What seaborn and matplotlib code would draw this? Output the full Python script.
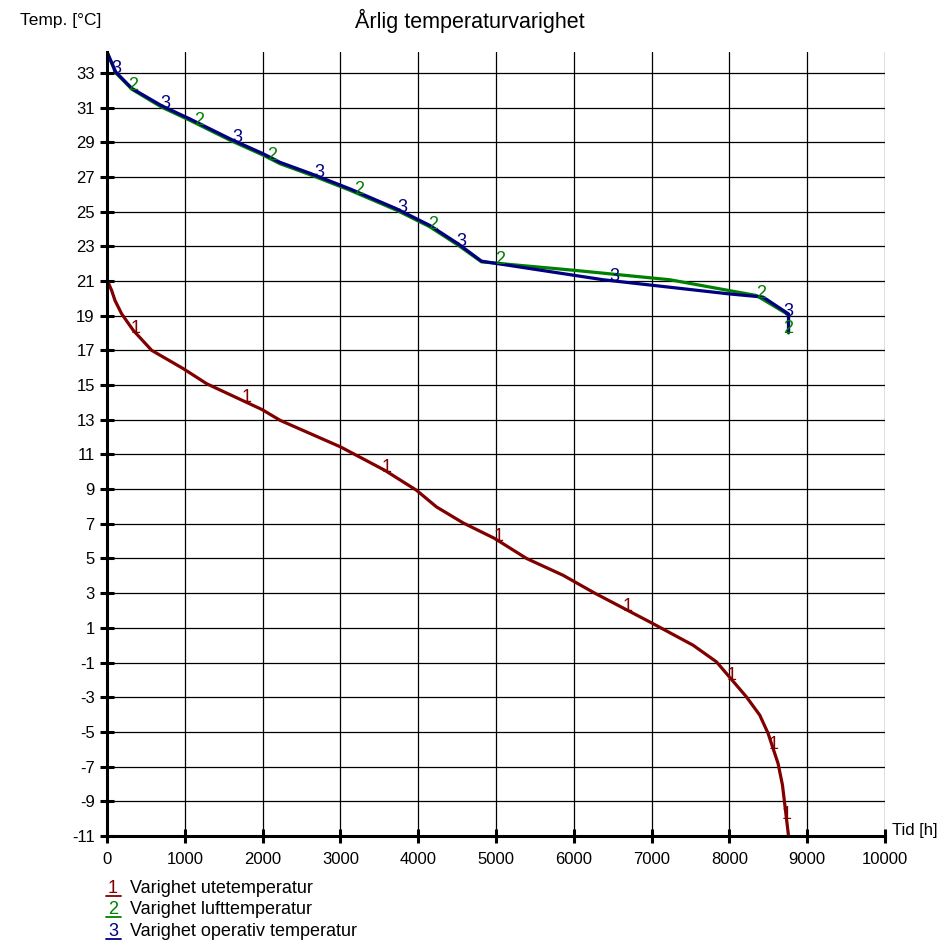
import numpy as np
import pandas as pd
import matplotlib
matplotlib.use("Agg")
import matplotlib.pyplot as plt
import seaborn as sns
from matplotlib.lines import Line2D

# ---------------- data ----------------
ute_hours = [0, 60, 103, 189, 338, 574, 982, 1283, 1995, 2227, 3003, 3572, 3979,
             4236, 4578, 4985, 5393, 5863, 6270, 6977, 7533, 7834, 8219, 8390,
             8497, 8625, 8682, 8760]
ute_temp = [21.07, 20.45, 19.87, 19.1, 18.15, 17.0, 15.94, 15.07, 13.58, 12.96,
            11.43, 10.08, 8.93, 7.97, 7.05, 6.15, 5.0, 4.03, 3.0, 1.34, 0.0,
            -0.96, -2.98, -4.03, -5.08, -6.81, -8.06, -11.0]

luft_hours = [0, 112, 320, 703, 1066, 1602, 2009, 2223, 2608, 3122, 3722, 4150,
              4514, 4814, 5991, 7234, 8348, 8760, 8760]
luft_temp = [34.2, 33.0, 32.05, 31.02, 30.26, 29.07, 28.25, 27.76, 27.13, 26.23,
             25.08, 24.12, 23.06, 22.1, 21.62, 21.07, 20.16, 19.05, 18.0]

op_hours = [0, 112, 320, 703, 1066, 1602, 2009, 2223, 2608, 3122, 3722, 4150,
            4514, 4814, 6377, 7983, 8433, 8760, 8760]
op_temp = [34.2, 33.05, 32.1, 31.1, 30.34, 29.15, 28.33, 27.84, 27.21, 26.31,
           25.16, 24.2, 23.14, 22.14, 21.07, 20.26, 20.07, 19.1, 18.05]

series_ids = ["1", "2", "3"]
series_names = ["Varighet utetemperatur", "Varighet lufttemperatur",
                "Varighet operativ temperatur"]
series_colors = ["#800000", "#008000", "#000080"]

label_temps_ute = [18, 14, 10, 6, 2, -2, -6, -10]
label_temps_luft = [32, 30, 28, 26, 24, 22, 20, 18]
label_temps_op = [33, 31, 29, 27, 25, 23, 21, 19]

x_ticks = list(range(0, 10001, 1000))
y_ticks = list(range(-11, 34, 2))

title = "Årlig temperaturvarighet"
y_label = "Temp. [°C]"
x_label = "Tid [h]"

# ---------------- build long table ----------------
frames = []
for sid, h, t in zip(series_ids, [ute_hours, luft_hours, op_hours],
                     [ute_temp, luft_temp, op_temp]):
    frames.append(pd.DataFrame({"hours": h, "temp": t, "series": sid}))
df = pd.concat(frames, ignore_index=True)

sns.set_theme(style="white")
plt.rcParams["font.family"] = ["Liberation Sans", "DejaVu Sans"]

W, H = 939, 942
fig = plt.figure(figsize=(W / 100, H / 100), dpi=100)
ax = fig.add_axes([107 / W, 1 - 836 / H, (885 - 107) / W, (836 - 52) / H])

sns.lineplot(data=df, x="hours", y="temp", hue="series", hue_order=series_ids,
             palette=dict(zip(series_ids, series_colors)), sort=False,
             estimator=None, linewidth=2.3, legend=False, ax=ax, zorder=3)

ax.set_xlim(0, 10000)
ax.set_ylim(-11, 34.2)
ax.set_xticks(x_ticks)
ax.set_yticks(y_ticks)
ax.set_xticklabels([str(v) for v in x_ticks])
ax.set_yticklabels([str(v) for v in y_ticks])
ax.set_xlabel("")
ax.set_ylabel("")
ax.grid(True, color="black", linewidth=0.9)
ax.set_axisbelow(True)
for s in ["top", "right"]:
    ax.spines[s].set_visible(False)
for s in ["left", "bottom"]:
    ax.spines[s].set_color("black")
    ax.spines[s].set_linewidth(2.2)
    ax.spines[s].set_zorder(4)
ax.tick_params(axis="both", direction="inout", length=9.5, width=2.2,
               colors="black", labelsize=12, left=True, bottom=True)
ax.tick_params(axis="x", pad=7)
ax.tick_params(axis="y", pad=4)

# curve labels placed on the curves at given temperatures
for sid, h, t, temps, col in zip(series_ids, [ute_hours, luft_hours, op_hours],
                                 [ute_temp, luft_temp, op_temp],
                                 [label_temps_ute, label_temps_luft, label_temps_op],
                                 series_colors):
    hr = np.array(h)[::-1]
    tr = np.array(t)[::-1]
    for T in temps:
        xv = np.interp(T, tr, hr)
        ax.text(xv, T, sid, color=col, fontsize=13, ha="center", va="baseline",
                zorder=5, clip_on=False)

# titles / axis labels
fig.text(0.5, 1 - 28 / H, title, ha="center", va="baseline", fontsize=15.5,
         color="black")
fig.text(20 / W, 1 - 25 / H, y_label, ha="left", va="baseline", fontsize=12.5,
         color="black")
fig.text(892 / W, 1 - 835 / H, x_label, ha="left", va="baseline", fontsize=12,
         color="black")

# legend with underlined coloured numbers
for i, (sid, name, col) in enumerate(zip(series_ids, series_names, series_colors)):
    yb = 1 - (893 + 21.5 * i) / H
    fig.text(108 / W, yb, sid, color=col, fontsize=13, ha="left", va="baseline")
    fig.text(130 / W, yb, name, color="black", fontsize=13, ha="left",
             va="baseline")
    yl = 1 - (895.5 + 21.5 * i) / H
    fig.add_artist(Line2D([106 / W, 121 / W], [yl, yl], color=col, lw=1.3))

fig.savefig("out.png", dpi=100)
